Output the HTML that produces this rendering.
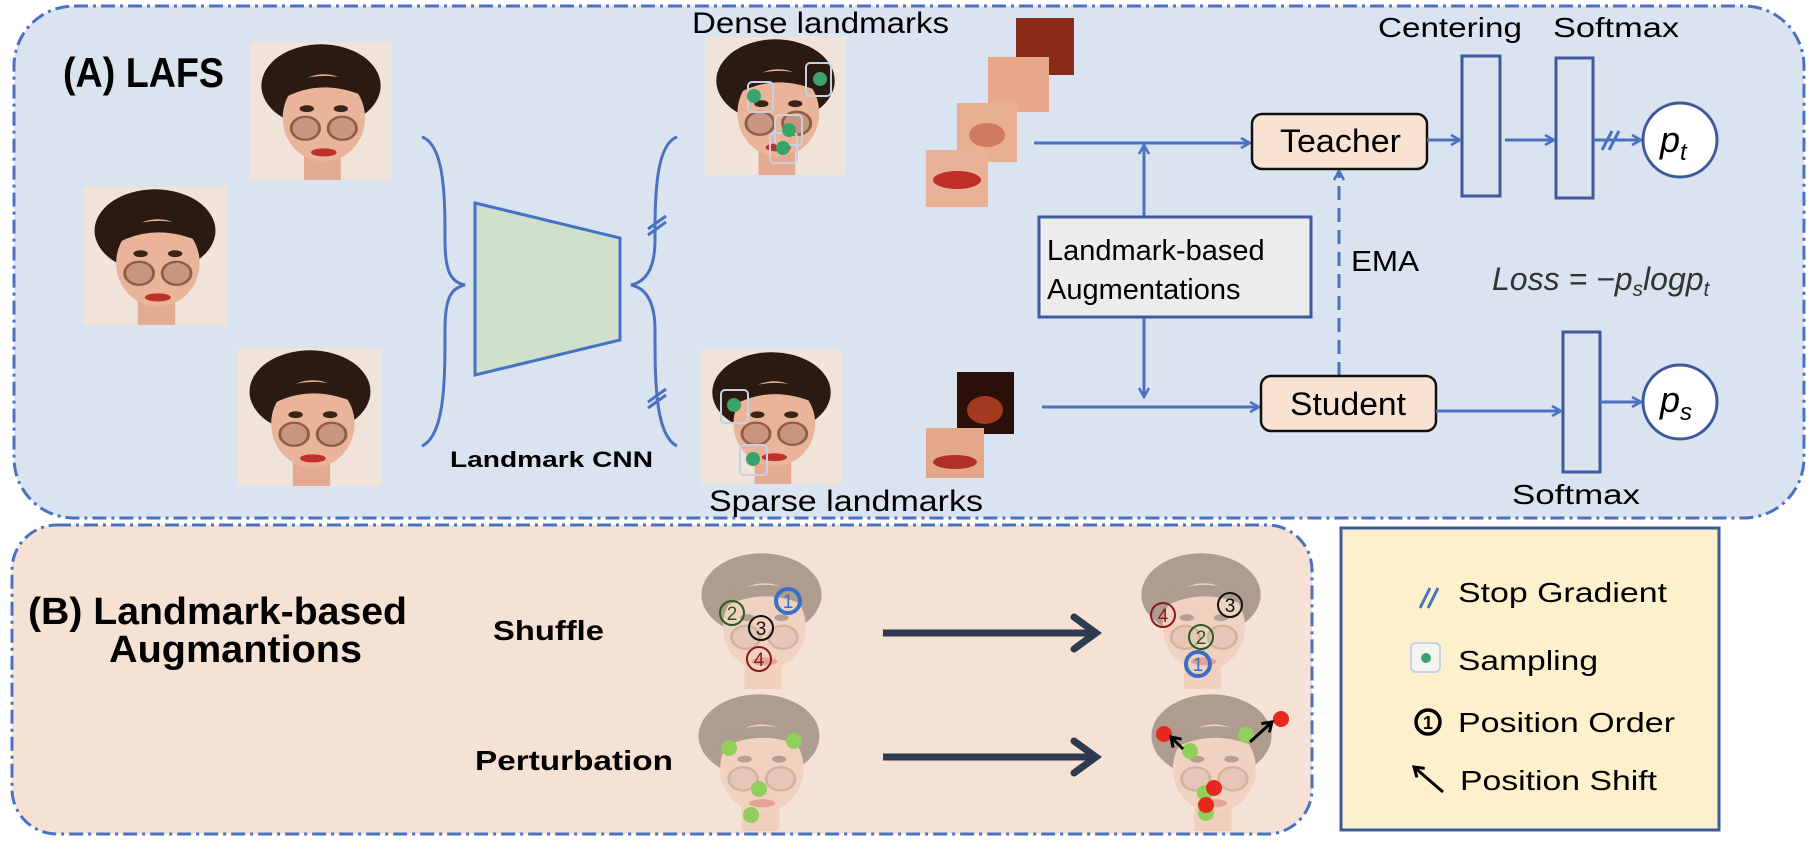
<!DOCTYPE html>
<html><head><meta charset="utf-8"><style>
html,body{margin:0;padding:0;background:#fff;}
svg{display:block;}
text{font-family:"Liberation Sans",sans-serif;}
</style></head><body>
<svg width="1816" height="846" viewBox="0 0 1816 846" xmlns="http://www.w3.org/2000/svg">
<defs>
<symbol id="face" viewBox="0 0 100 120" preserveAspectRatio="none">
<rect x="0" y="0" width="100" height="120" fill="#efe3da"/>
<ellipse cx="50" cy="38" rx="42" ry="36" fill="#2b1a12"/>
<rect x="38" y="95" width="26" height="25" fill="#e4ab92"/>
<ellipse cx="52" cy="66" rx="29" ry="38" fill="#e9b49a"/>
<path d="M22 50 Q50 30 82 48 L82 38 Q50 20 22 40 Z" fill="#2b1a12"/>
<ellipse cx="40" cy="58" rx="5" ry="3" fill="#3a2418"/>
<ellipse cx="64" cy="58" rx="5" ry="3" fill="#3a2418"/>
<circle cx="39" cy="75" r="10" fill="#c99580" stroke="#8a6040" stroke-width="2"/>
<circle cx="65" cy="75" r="10" fill="#c99580" stroke="#8a6040" stroke-width="2"/>
<ellipse cx="52" cy="96" rx="9" ry="3.5" fill="#c0302a"/>
</symbol>
<marker id="ah" markerWidth="12" markerHeight="12" refX="10" refY="6" orient="auto" markerUnits="userSpaceOnUse">
<path d="M1 1 L10 6 L1 11" fill="none" stroke="#4a72c0" stroke-width="2.5"/>
</marker>
<marker id="ahd" markerWidth="40" markerHeight="40" refX="30" refY="20" orient="auto" markerUnits="userSpaceOnUse">
<path d="M8 4 L30 20 L8 36" fill="none" stroke="#2d3a4f" stroke-width="7" stroke-linecap="round"/>
</marker>
<marker id="ahk" markerWidth="14" markerHeight="14" refX="11" refY="7" orient="auto" markerUnits="userSpaceOnUse">
<path d="M2 1 L11 7 L2 13" fill="none" stroke="#000" stroke-width="3"/>
</marker>
</defs>

<rect x="14" y="6" width="1790" height="512" rx="60" fill="#dae3f0" stroke="#4a72c0" stroke-width="3" stroke-dasharray="14 5 3 5"/>
<rect x="12" y="525" width="1300" height="309" rx="45" fill="#f6e2d5" stroke="#4a72c0" stroke-width="3" stroke-dasharray="14 5 3 5"/>
<rect x="1341" y="528" width="378" height="302" fill="#fdf0cc" stroke="#3f5a9a" stroke-width="3"/>

<text x="63" y="87" font-size="42" font-weight="bold" textLength="161" lengthAdjust="spacingAndGlyphs">(A) LAFS</text>

<use href="#face" x="250" y="42" width="142" height="138"/>
<use href="#face" x="83" y="187" width="144" height="138"/>
<use href="#face" x="238" y="348" width="144" height="138"/>

<path d="M422 137 C445 145 445 200 445 240 C445 270 450 282 465 285 C450 288 445 300 445 330 C445 380 445 435 422 446" fill="none" stroke="#4a72c0" stroke-width="3"/>
<polygon points="475,203 620,238 620,340 475,375" fill="#cfe0cc" stroke="#4472c4" stroke-width="3"/>
<path d="M677 137 C655 145 655 200 655 240 C655 270 645 282 631 285 C645 288 655 300 655 330 C655 380 655 435 677 446" fill="none" stroke="#4a72c0" stroke-width="3"/>
<path d="M648 235 L666 222 M648 229 L666 216" stroke="#4a72c0" stroke-width="3"/>
<path d="M648 408 L666 395 M648 402 L666 389" stroke="#4a72c0" stroke-width="3"/>
<text x="450" y="467" font-size="22" font-weight="bold" textLength="203" lengthAdjust="spacingAndGlyphs">Landmark CNN</text>

<text x="692" y="33" font-size="30" textLength="257" lengthAdjust="spacingAndGlyphs">Dense landmarks</text>
<use href="#face" x="705" y="37" width="141" height="138"/>
<rect x="748" y="82" width="25" height="30" rx="4" fill="none" stroke="#c8d0e8" stroke-width="2"/>
<rect x="806" y="63" width="25" height="33" rx="4" fill="none" stroke="#c8d0e8" stroke-width="2"/>
<rect x="775" y="115" width="27" height="30" rx="4" fill="none" stroke="#c8d0e8" stroke-width="2"/>
<rect x="770" y="133" width="27" height="30" rx="4" fill="none" stroke="#c8d0e8" stroke-width="2"/>
<circle cx="754" cy="96" r="7" fill="#3aa36a"/>
<circle cx="820" cy="79" r="7" fill="#3aa36a"/>
<circle cx="789" cy="130" r="7" fill="#3aa36a"/>
<circle cx="783" cy="148" r="7" fill="#3aa36a"/>

<use href="#face" x="701" y="350" width="141" height="134"/>
<rect x="721" y="390" width="27" height="33" rx="4" fill="none" stroke="#c8d0e8" stroke-width="2"/>
<rect x="740" y="445" width="27" height="30" rx="4" fill="none" stroke="#c8d0e8" stroke-width="2"/>
<circle cx="734" cy="405" r="7" fill="#3aa36a"/>
<circle cx="753" cy="459" r="7" fill="#3aa36a"/>
<text x="709" y="511" font-size="30" textLength="274" lengthAdjust="spacingAndGlyphs">Sparse landmarks</text>

<rect x="1016" y="18" width="58" height="57" fill="#8a2a18"/>
<rect x="988" y="57" width="61" height="55" fill="#e6a888"/>
<rect x="957" y="103" width="60" height="59" fill="#e8b090"/>
<ellipse cx="987" cy="135" rx="18" ry="12" fill="#d07a60"/>
<rect x="926" y="150" width="62" height="57" fill="#eab196"/>
<ellipse cx="957" cy="180" rx="24" ry="9" fill="#c0302a"/>
<rect x="957" y="372" width="57" height="62" fill="#2a1008"/>
<ellipse cx="985" cy="410" rx="18" ry="14" fill="#a33a20"/>
<rect x="926" y="428" width="58" height="50" fill="#e3a88c"/>
<ellipse cx="955" cy="462" rx="22" ry="7" fill="#b03028"/>

<line x1="1034" y1="143" x2="1250" y2="143" stroke="#4a72c0" stroke-width="3" marker-end="url(#ah)"/>
<line x1="1144" y1="217" x2="1144" y2="145" stroke="#4a72c0" stroke-width="3" marker-end="url(#ah)"/>
<line x1="1144" y1="317" x2="1144" y2="397" stroke="#4a72c0" stroke-width="3" marker-end="url(#ah)"/>
<line x1="1042" y1="407" x2="1259" y2="407" stroke="#4a72c0" stroke-width="3" marker-end="url(#ah)"/>
<line x1="1339" y1="376" x2="1339" y2="171" stroke="#4a72c0" stroke-width="3" stroke-dasharray="14 8" marker-end="url(#ah)"/>

<rect x="1039" y="217" width="272" height="100" fill="#ececec" stroke="#3f5a9a" stroke-width="3"/>
<text x="1047" y="260" font-size="29">Landmark-based</text>
<text x="1047" y="299" font-size="29">Augmentations</text>
<text x="1351" y="271" font-size="29" textLength="68" lengthAdjust="spacingAndGlyphs">EMA</text>

<rect x="1252" y="114" width="175" height="55" rx="10" fill="#f8e3d3" stroke="#111" stroke-width="2.5"/>
<text x="1280" y="152" font-size="32" textLength="121" lengthAdjust="spacingAndGlyphs">Teacher</text>
<rect x="1261" y="376" width="175" height="55" rx="10" fill="#f8e3d3" stroke="#111" stroke-width="2.5"/>
<text x="1290" y="415" font-size="32" textLength="116" lengthAdjust="spacingAndGlyphs">Student</text>

<text x="1378" y="37" font-size="28" textLength="144" lengthAdjust="spacingAndGlyphs">Centering</text>
<text x="1553" y="37" font-size="28" textLength="126" lengthAdjust="spacingAndGlyphs">Softmax</text>
<rect x="1462" y="56" width="38" height="140" fill="none" stroke="#3f5a9a" stroke-width="3"/>
<rect x="1556" y="58" width="37" height="140" fill="none" stroke="#3f5a9a" stroke-width="3"/>
<rect x="1563" y="332" width="37" height="140" fill="none" stroke="#3f5a9a" stroke-width="3"/>
<text x="1512" y="504" font-size="28" textLength="128" lengthAdjust="spacingAndGlyphs">Softmax</text>

<line x1="1427" y1="140" x2="1460" y2="140" stroke="#4a72c0" stroke-width="3" marker-end="url(#ah)"/>
<line x1="1505" y1="140" x2="1554" y2="140" stroke="#4a72c0" stroke-width="3" marker-end="url(#ah)"/>
<line x1="1593" y1="140" x2="1641" y2="140" stroke="#4a72c0" stroke-width="3" marker-end="url(#ah)"/>
<path d="M1602 150 L1612 131 M1609 150 L1619 131" stroke="#4a72c0" stroke-width="3"/>
<line x1="1436" y1="411" x2="1561" y2="411" stroke="#4a72c0" stroke-width="3" marker-end="url(#ah)"/>
<line x1="1600" y1="402" x2="1641" y2="402" stroke="#4a72c0" stroke-width="3" marker-end="url(#ah)"/>

<circle cx="1680" cy="140" r="37" fill="#fff" stroke="#3f5a9a" stroke-width="3"/>
<text x="1660" y="152" font-size="36" font-family="Liberation Serif" font-style="italic">p</text>
<text x="1680" y="160" font-size="24" font-family="Liberation Serif" font-style="italic">t</text>
<circle cx="1680" cy="402" r="37" fill="#fff" stroke="#3f5a9a" stroke-width="3"/>
<text x="1660" y="412" font-size="36" font-family="Liberation Serif" font-style="italic">p</text>
<text x="1680" y="420" font-size="24" font-family="Liberation Serif" font-style="italic">s</text>

<text x="1492" y="290" font-size="32" font-family="Liberation Serif" font-style="italic" fill="#333">Loss = −p<tspan font-size="21" dy="6">s</tspan><tspan dy="-6">logp</tspan><tspan font-size="21" dy="6">t</tspan></text>

<text x="28" y="624" font-size="38" font-weight="bold" textLength="379" lengthAdjust="spacingAndGlyphs">(B) Landmark-based</text>
<text x="109" y="662" font-size="38" font-weight="bold" textLength="253" lengthAdjust="spacingAndGlyphs">Augmantions</text>
<text x="493" y="640" font-size="28" font-weight="bold" textLength="111" lengthAdjust="spacingAndGlyphs">Shuffle</text>
<text x="475" y="770" font-size="28" font-weight="bold" textLength="198" lengthAdjust="spacingAndGlyphs">Perturbation</text>

<g opacity="0.35">
<use href="#face" x="690" y="551" width="143" height="138"/>
<use href="#face" x="1130" y="551" width="142" height="138"/>
<use href="#face" x="687" y="692" width="144" height="139"/>
<use href="#face" x="1140" y="692" width="143" height="139"/>
</g>
<g fill="none" stroke-width="2">
<circle cx="788" cy="601" r="12" stroke="#3a6fc8" stroke-width="4"/>
<circle cx="732" cy="613" r="12" stroke="#2a5a20"/>
<circle cx="761" cy="628" r="12" stroke="#111"/>
<circle cx="759" cy="659" r="12" stroke="#8a1a1a"/>
<circle cx="1230" cy="605" r="12" stroke="#111"/>
<circle cx="1163" cy="615" r="12" stroke="#8a1a1a"/>
<circle cx="1201" cy="637" r="12" stroke="#2a5a20"/>
<circle cx="1198" cy="664" r="12" stroke="#3a6fc8" stroke-width="4"/>
</g>
<g font-size="19" text-anchor="middle">
<text x="788" y="608" fill="#3a6fc8">1</text>
<text x="732" y="620" fill="#2a5a20">2</text>
<text x="761" y="635" fill="#111">3</text>
<text x="759" y="666" fill="#8a1a1a">4</text>
<text x="1230" y="612" fill="#111">3</text>
<text x="1163" y="622" fill="#8a1a1a">4</text>
<text x="1201" y="644" fill="#2a5a20">2</text>
<text x="1198" y="671" fill="#3a6fc8">1</text>
</g>
<line x1="883" y1="633" x2="1096" y2="633" stroke="#2d3a4f" stroke-width="7" marker-end="url(#ahd)"/>
<line x1="883" y1="757" x2="1096" y2="757" stroke="#2d3a4f" stroke-width="7" marker-end="url(#ahd)"/>

<g fill="#8fcf5a">
<circle cx="729" cy="748" r="8"/><circle cx="794" cy="741" r="8"/>
<circle cx="759" cy="789" r="8"/><circle cx="751" cy="815" r="8"/>
<circle cx="1190" cy="751" r="8"/><circle cx="1246" cy="735" r="8"/>
<circle cx="1205" cy="793" r="8"/><circle cx="1206" cy="813" r="8"/>
</g>
<g fill="#e8281e">
<circle cx="1164" cy="734" r="8"/><circle cx="1281" cy="719" r="8"/>
<circle cx="1214" cy="788" r="8"/><circle cx="1206" cy="805" r="8"/>
</g>
<line x1="1183" y1="749" x2="1171" y2="737" stroke="#000" stroke-width="3" marker-end="url(#ahk)"/>
<line x1="1250" y1="742" x2="1272" y2="722" stroke="#000" stroke-width="3" marker-end="url(#ahk)"/>

<path d="M1420 608 L1430 588 M1428 608 L1438 588" stroke="#4a72c0" stroke-width="3"/>
<text x="1458" y="602" font-size="28" textLength="209" lengthAdjust="spacingAndGlyphs">Stop Gradient</text>
<rect x="1411" y="643" width="29" height="29" rx="5" fill="#f4f4f0" stroke="#c8d0e8" stroke-width="2"/>
<circle cx="1426" cy="658" r="5" fill="#3aa36a"/>
<text x="1458" y="670" font-size="28" textLength="140" lengthAdjust="spacingAndGlyphs">Sampling</text>
<circle cx="1428" cy="722" r="12" fill="none" stroke="#000" stroke-width="3.5"/>
<text x="1428" y="729" font-size="18" font-weight="bold" text-anchor="middle">1</text>
<text x="1458" y="732" font-size="28" textLength="217" lengthAdjust="spacingAndGlyphs">Position Order</text>
<line x1="1443" y1="792" x2="1414" y2="767" stroke="#000" stroke-width="3" marker-end="url(#ahk)"/>
<text x="1460" y="790" font-size="28" textLength="197" lengthAdjust="spacingAndGlyphs">Position Shift</text>
</svg>
</body></html>
